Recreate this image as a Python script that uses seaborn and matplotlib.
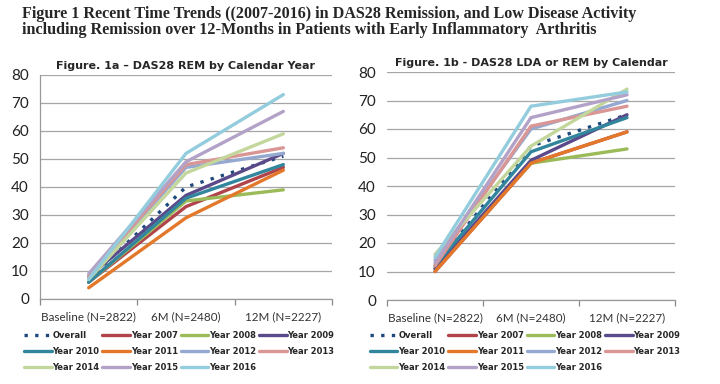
import numpy as np
import pandas as pd
import seaborn as sns
import matplotlib.pyplot as plt
from matplotlib.ticker import FixedLocator

timepoints = ['Baseline (N=2822)', '6M (N=2480)', '12M (N=2227)']
series = ['Overall', 'Year 2007', 'Year 2008', 'Year 2009', 'Year 2010', 'Year 2011',
          'Year 2012', 'Year 2013', 'Year 2014', 'Year 2015', 'Year 2016']

# fig 1a - DAS28 remission (%)
rem_overall = [7, 40, 51]
rem_2007 = [6, 33, 47]
rem_2008 = [6, 35, 39]
rem_2009 = [8, 37, 52]
rem_2010 = [6, 36, 48]
rem_2011 = [4, 29, 46]
rem_2012 = [8, 47, 52]
rem_2013 = [8, 48, 54]
rem_2014 = [7, 45, 59]
rem_2015 = [9, 49, 67]
rem_2016 = [7, 52, 73]

# fig 1b - DAS28 LDA or remission (%)
lda_overall = [12, 54, 65]
lda_2007 = [10, 48, 59]
lda_2008 = [11, 48, 53]
lda_2009 = [11, 49, 65]
lda_2010 = [12, 52, 64]
lda_2011 = [10, 48, 59]
lda_2012 = [14, 60, 70]
lda_2013 = [12, 61, 68]
lda_2014 = [16, 54, 74]
lda_2015 = [13, 64, 72]
lda_2016 = [15, 68, 73]

colors = ['#1F497D', '#B0444A', '#9BBB59', '#5B4A8A', '#31859C', '#E4782A',
          '#95A9D0', '#D99694', '#C3D69B', '#B3A2C7', '#93CDDD']

rem = [rem_overall, rem_2007, rem_2008, rem_2009, rem_2010, rem_2011,
       rem_2012, rem_2013, rem_2014, rem_2015, rem_2016]
lda = [lda_overall, lda_2007, lda_2008, lda_2009, lda_2010, lda_2011,
       lda_2012, lda_2013, lda_2014, lda_2015, lda_2016]


def to_long(vals):
    rows = []
    for name, v in zip(series, vals):
        for i, y in enumerate(v):
            rows.append({'series': name, 'x': i, 'pct': y})
    return pd.DataFrame(rows)


sns.set_theme(style='white')
plt.rcParams['font.family'] = ['Lato', 'DejaVu Sans']

fig = plt.figure(figsize=(7.2, 3.84), dpi=100)
ax1 = fig.add_axes([40 / 720, 1 - 299 / 384, 292 / 720, 224 / 384])
ax2 = fig.add_axes([387 / 720, 1 - 300 / 384, 288 / 720, 228 / 384])

palette = dict(zip(series, colors))
dashes = {s: (1, 2.2) if s == 'Overall' else '' for s in series}

fig.text(0.03, 0.963, 'Figure 1 Recent Time Trends ((2007-2016) in DAS28 Remission, and Low Disease Activity',
         family='Liberation Serif', weight='bold', fontsize=11.6, va='center')
fig.text(0.03, 0.923, 'including Remission over 12-Months in Patients with Early Inflammatory  Arthritis',
         family='Liberation Serif', weight='bold', fontsize=11.6, va='center')

# row-major order for a 4-column legend
order = [0, 4, 8, 1, 5, 9, 2, 6, 10, 3, 7]

for ax, vals, title, lx in [(ax1, rem, 'Figure. 1a \u2013 DAS28 REM by Calendar Year', 24),
                            (ax2, lda, 'Figure. 1b - DAS28 LDA or REM by Calendar', 370)]:
    df = to_long(vals)
    sns.lineplot(data=df, x='x', y='pct', hue='series', style='series', palette=palette,
                 dashes=dashes, linewidth=2.4, ax=ax)
    handles, labels = ax.get_legend_handles_labels()
    ax.get_legend().remove()
    ax.set_xlim(-0.5, 2.5)
    ax.set_ylim(0, 80)
    ax.set_yticks(range(0, 81, 10))
    ax.yaxis.grid(True, color='#A6A6A6', linewidth=0.9)
    ax.set_axisbelow(True)
    ax.set_xticks([0, 1, 2])
    ax.set_xticklabels(timepoints, fontsize=8.4, color='#333333')
    ax.xaxis.set_minor_locator(FixedLocator([-0.5, 0.5, 1.5, 2.5]))
    ax.tick_params(axis='x', which='major', length=0, pad=9)
    ax.tick_params(axis='x', which='minor', length=4, color='#888888', width=0.9, direction='out', bottom=True)
    ax.tick_params(axis='y', labelsize=11, length=0, pad=8, colors='#222222')
    for s in ['top', 'right']:
        ax.spines[s].set_visible(False)
    ax.spines['left'].set_visible(ax is ax1)
    for s in ['left', 'bottom']:
        ax.spines[s].set_color('#999999')
        ax.spines[s].set_linewidth(0.9)
    ax.set_xlabel('')
    ax.set_ylabel('')
    ax.set_title(title, fontsize=8, weight='bold', pad=4, family='DejaVu Sans')
    fig.legend([handles[i] for i in order], [labels[i] for i in order],
               loc='upper left', bbox_to_anchor=(lx / 720, 1 - 331 / 384),
               ncol=4, frameon=False, prop={'weight': 'bold', 'size': 6, 'family': 'DejaVu Sans'},
               handlelength=3.3, handletextpad=0.1, columnspacing=0.35, labelspacing=0.85,
               borderaxespad=0, borderpad=0)

fig.savefig('out.png', dpi=100)
